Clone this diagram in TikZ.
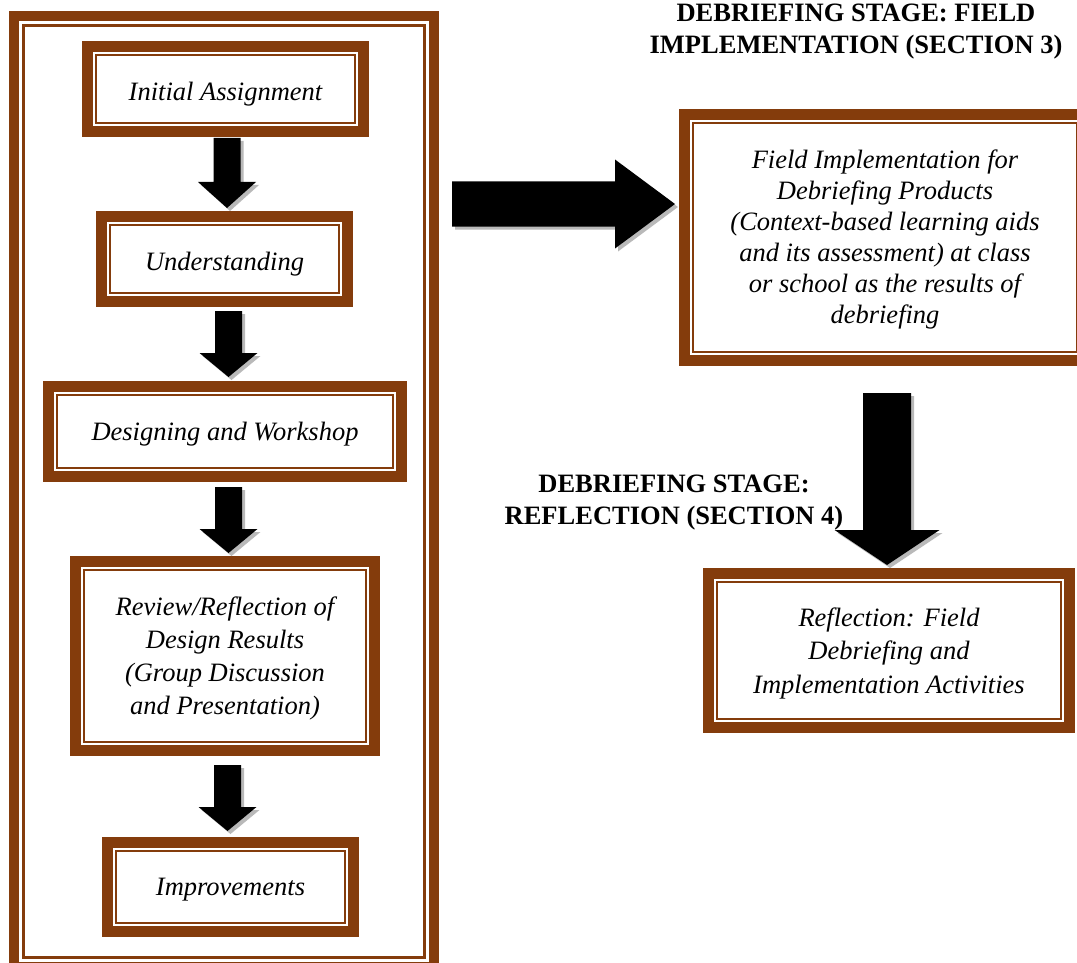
\documentclass[tikz,border=0pt]{standalone}
\usepackage{fontspec}
\setmainfont{Liberation Serif}
\usetikzlibrary{calc}
\definecolor{brn}{RGB}{132,60,12}
\definecolor{shadowc}{RGB}{185,185,185}
% down block arrow: start, tip, shaft half, head half, head length, dx, dy, colour
\newcommand\darr[8]{\fill[#8] let \p1=(#1),\p2=(#2) in
 ({\x1-#3+#6},{\y1+#7}) -- ({\x1+#3+#6},{\y1+#7}) -- ({\x1+#3+#6},{\y2+#5+#7})
 -- ({\x1+#4+#6},{\y2+#5+#7}) -- ({\x2+#6},{\y2+#7}) -- ({\x1-#4+#6},{\y2+#5+#7})
 -- ({\x1-#3+#6},{\y2+#5+#7}) -- cycle;}
\newcommand\DownArr[5]{\darr{#1}{#2}{#3}{#4}{#5}{3pt}{-3pt}{shadowc}\darr{#1}{#2}{#3}{#4}{#5}{0pt}{0pt}{black}}
% right block arrow
\newcommand\rarr[8]{\fill[#8] let \p1=(#1),\p2=(#2) in
 ({\x1+#6},{\y1+#3+#7}) -- ({\x2-#5+#6},{\y1+#3+#7}) -- ({\x2-#5+#6},{\y1+#4+#7})
 -- ({\x2+#6},{\y2+#7}) -- ({\x2-#5+#6},{\y1-#4+#7}) -- ({\x2-#5+#6},{\y1-#3+#7})
 -- ({\x1+#6},{\y1-#3+#7}) -- cycle;}
\newcommand\RightArr[5]{\rarr{#1}{#2}{#3}{#4}{#5}{3pt}{-3pt}{shadowc}\rarr{#1}{#2}{#3}{#4}{#5}{0pt}{0pt}{black}}
\begin{document}
\begin{tikzpicture}[x=1pt,y=-1pt,
  box/.style={draw=brn, line width=11pt, inner sep=0pt, outer sep=0pt},
  boxtext/.style={align=center, inner sep=0pt, font={\itshape\fontsize{26.5}{33}\selectfont}},
  title/.style={align=center, inner sep=0pt, font={\bfseries\fontsize{26.5}{32}\selectfont}},
  thinline/.style={draw=brn, line width=2.5pt}]
\useasboundingbox (0,0) rectangle (1077,963);
\fill[white] (0,0) rectangle (1077,963);

% big frame
\node[draw=brn, line width=10pt, inner sep=0pt, outer sep=0pt,
  minimum width=420pt, minimum height=951pt] (frame) at (224,491.5) {};
\draw[thinline] ([shift={(9.5pt,-9.5pt)}]frame.north west) rectangle ([shift={(-9.5pt,9.5pt)}]frame.south east);

% left column boxes
\node[box, minimum width=276pt, minimum height=85pt] (init) at (225.5,89) {};
\node[box, minimum width=246pt, minimum height=85pt] (under) at (224.5,259) {};
\node[box, minimum width=353pt, minimum height=90pt] (design) at (225,431.5) {};
\node[box, minimum width=299pt, minimum height=189pt] (review) at (225,656) {};
\node[box, minimum width=246pt, minimum height=89pt] (improv) at (230.5,887) {};
% right column boxes
\node[box, minimum width=401pt, minimum height=246pt] (field) at (885,237.5) {};
\node[box, minimum width=361pt, minimum height=154pt] (refl) at (889,650.5) {};

\foreach \n in {init,under,design,review,improv,field,refl}
  \draw[thinline] ([shift={(8.5pt,-8.5pt)}]\n.north west) rectangle ([shift={(-8.5pt,8.5pt)}]\n.south east);

% box texts
\node[boxtext] (init-t) at ([yshift=-5pt]init.center) {Initial Assignment};
\node[boxtext] (under-t) at ([yshift=-5pt]under.center) {Understanding};
\node[boxtext] (design-t) at ([yshift=-3pt]design.center) {Designing and Workshop};
\node[boxtext] (review-t) at ([yshift=-2.5pt]review.center)
  {Review/Reflection of\\Design Results\\(Group Discussion\\and Presentation)};
\node[boxtext] (improv-t) at ([yshift=-3pt]improv.center) {Improvements};
\node[boxtext, font={\itshape\fontsize{26.5}{31}\selectfont}] (field-t) at ([yshift=-2pt]field.center)
  {Field Implementation for\\Debriefing Products\\(Context-based learning aids\\and its assessment) at class\\or school as the results of\\debriefing};
\node[boxtext, font={\itshape\fontsize{26.5}{33.5}\selectfont}] (refl-t) at ([yshift=-2.5pt]refl.center)
  {Reflection: Field\\Debriefing and\\Implementation Activities};

% titles
\node[title] (t1) at (856,32) {DEBRIEFING STAGE: FIELD\\IMPLEMENTATION (SECTION 3)};
\node[title] (t2) at (674,502.5) {DEBRIEFING STAGE:\\REFLECTION (SECTION 4)};

% arrow end points
\coordinate (a1s) at (227,138); \coordinate (a1e) at (227,208);
\coordinate (a2s) at (228.5,311); \coordinate (a2e) at (228.5,377);
\coordinate (a3s) at (228.5,487); \coordinate (a3e) at (228.5,553);
\coordinate (a4s) at (227.5,765); \coordinate (a4e) at (227.5,831);
\coordinate (rs) at (452,204); \coordinate (re) at (675,204);
\coordinate (ds) at (887,393); \coordinate (de) at (887,565);

\DownArr{a1s}{a1e}{13.5pt}{29pt}{26pt}
\DownArr{a2s}{a2e}{13.5pt}{29pt}{24pt}
\DownArr{a3s}{a3e}{13.5pt}{29pt}{24pt}
\DownArr{a4s}{a4e}{13.5pt}{29pt}{24pt}
\RightArr{rs}{re}{22.5pt}{44.5pt}{60pt}
\DownArr{ds}{de}{24pt}{52.5pt}{35pt}
\end{tikzpicture}
\end{document}
